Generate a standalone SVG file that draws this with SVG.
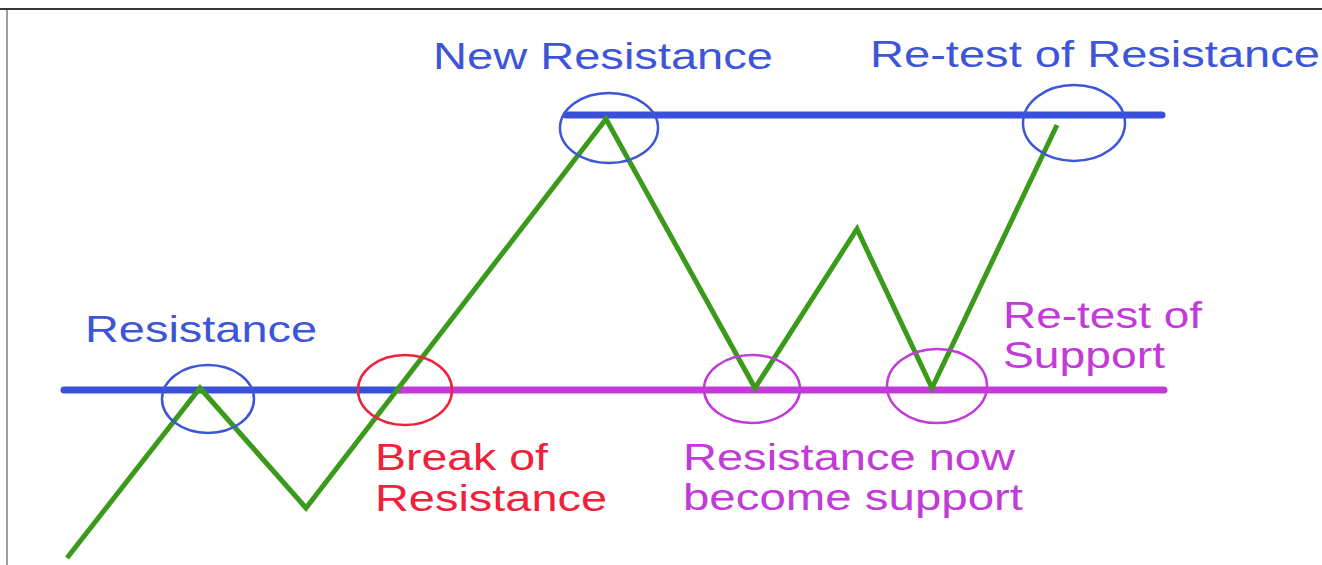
<svg xmlns="http://www.w3.org/2000/svg" width="1322" height="565" viewBox="0 0 1322 565">
<style>
.lbl{font-family:"Liberation Sans",Arial,sans-serif;font-size:36px;}
.blue{fill:#3d55d9;}
.red{fill:#f0213a;}
.mag{fill:#c23ad8;}
.ring{fill:none;stroke-width:2.5;}
.rb{stroke:#3d55d9;}
.rr{stroke:#f0213a;}
.rm{stroke:#c23ad8;}
.lvl{stroke-width:7;stroke-linecap:round;fill:none;}
</style>
<rect x="0" y="0" width="1322" height="565" fill="#ffffff"/>
<g id="frame">
<line x1="0" y1="9" x2="1322" y2="9" stroke="#3a3a3a" stroke-width="2"/>
<line x1="7" y1="9" x2="7" y2="565" stroke="#3a3a3a" stroke-width="1"/>
</g>
<g id="connectors">
<line class="lvl" x1="64" y1="390" x2="400" y2="390" stroke="#3a50d8"/>
<line class="lvl" x1="400" y1="390" x2="1164" y2="390" stroke="#c23ad8"/>
<line class="lvl" x1="566" y1="115" x2="1162" y2="115" stroke="#3a50d8"/>
<polyline points="67,558 200,388 306,508 606,119 755,388 857,229 932,388 1057,125" fill="none" stroke="#3a9a1a" stroke-width="5" stroke-linejoin="miter"/>
</g>
<g id="resistance">
<ellipse class="ring rb" cx="208" cy="399" rx="46" ry="34"/>
<text class="lbl blue" x="85" y="342" textLength="232" lengthAdjust="spacingAndGlyphs">Resistance</text>
</g>
<g id="break-of-resistance">
<ellipse class="ring rr" cx="405" cy="390" rx="47" ry="35"/>
<text class="lbl red" x="375" y="470" textLength="173" lengthAdjust="spacingAndGlyphs">Break of</text>
<text class="lbl red" x="375" y="511" textLength="232" lengthAdjust="spacingAndGlyphs">Resistance</text>
</g>
<g id="new-resistance">
<ellipse class="ring rb" cx="609" cy="128" rx="49" ry="35"/>
<text class="lbl blue" x="433" y="69" textLength="340" lengthAdjust="spacingAndGlyphs">New Resistance</text>
</g>
<g id="retest-resistance">
<ellipse class="ring rb" cx="1074" cy="123" rx="51" ry="38"/>
<text class="lbl blue" x="870" y="67" textLength="450" lengthAdjust="spacingAndGlyphs">Re-test of Resistance</text>
</g>
<g id="resistance-now-support">
<ellipse class="ring rm" cx="752" cy="389" rx="48" ry="34"/>
<text class="lbl mag" x="683" y="470" textLength="332" lengthAdjust="spacingAndGlyphs">Resistance now</text>
<text class="lbl mag" x="683" y="510" textLength="340" lengthAdjust="spacingAndGlyphs">become support</text>
</g>
<g id="retest-support">
<ellipse class="ring rm" cx="937" cy="386" rx="50" ry="37"/>
<text class="lbl mag" x="1003" y="328" textLength="199" lengthAdjust="spacingAndGlyphs">Re-test of</text>
<text class="lbl mag" x="1003" y="368" textLength="162" lengthAdjust="spacingAndGlyphs">Support</text>
</g>
</svg>
